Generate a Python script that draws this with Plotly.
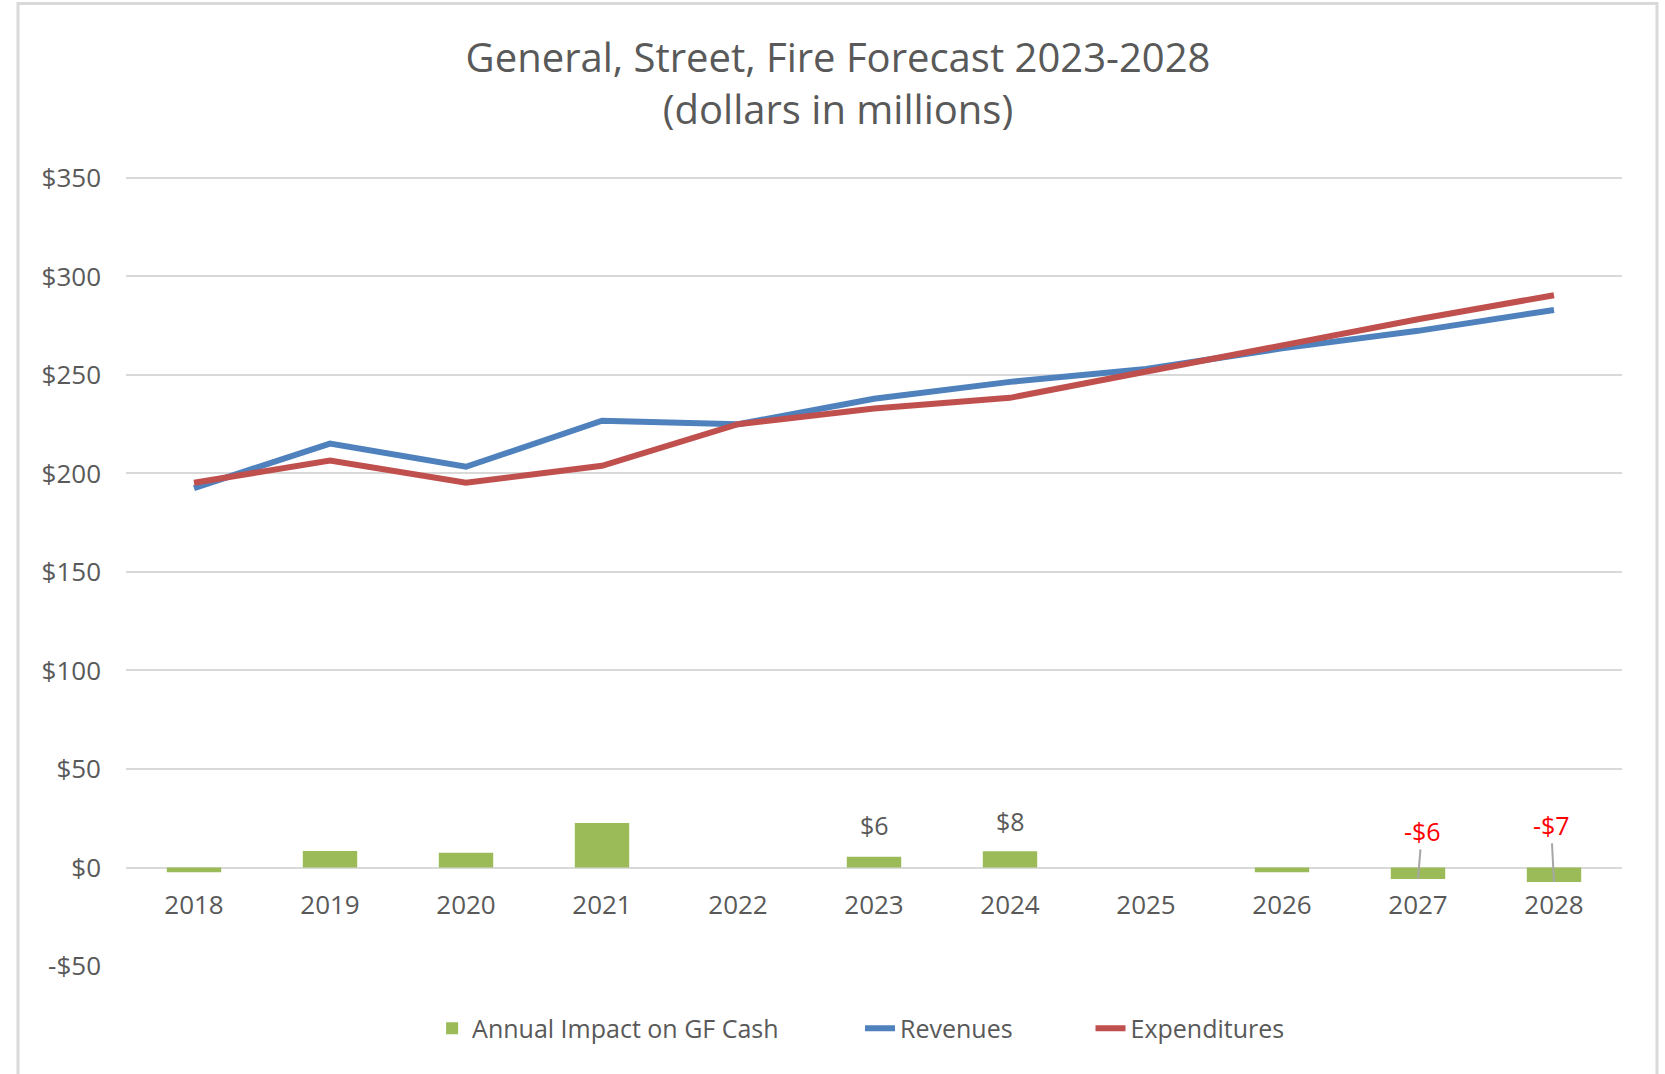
import plotly.graph_objects as go

years = ["2018", "2019", "2020", "2021", "2022", "2023", "2024", "2025", "2026", "2027", "2028"]
revenues = [192.6, 215.2, 203.4, 226.8, 225.0, 237.9, 246.5, 253.0, 263.5, 272.4, 283.0]
expenditures = [195.3, 206.6, 195.3, 203.9, 225.0, 233.0, 238.4, 251.9, 265.4, 278.3, 290.5]
impact = [-2.4, 8.4, 7.5, 22.6, 0.0, 5.5, 8.3, 0.0, -2.4, -5.8, -7.3]

label_years = ["2023", "2024", "2027", "2028"]
label_texts = ["$6", "$8", "-$6", "-$7"]

y_tickvals = [-50, 0, 50, 100, 150, 200, 250, 300, 350]
y_ticktext = ["-$50", "$0", "$50", "$100", "$150", "$200", "$250", "$300", "$350"]

Y_MIN, Y_MAX = -50, 351   # a little headroom so the $350 gridline is drawn

W, H = 1665, 1074
PX_PER_UNIT = (966.4 - 178.4) / 400.0
PL, PR = 126, 1622
PB = 966.4
PT = 178.4 - (Y_MAX - 350) * PX_PER_UNIT
ML, MR, MT, MB = PL, W - PR, PT, H - PB
PW = PR - PL
PH = PB - PT


def paper_x(page_x):
    return (page_x - PL) / PW


def paper_y(page_y):
    return (PB - page_y) / PH


GRAY_TXT = "#595959"
GRID = "#d9d9d9"
FONT = "Open Sans"

fig = go.Figure()
fig.add_trace(go.Bar(x=years, y=impact, name="Annual Impact on GF Cash",
                     marker=dict(color="#9BBB59", line=dict(width=0)), legend="legend"))
fig.add_trace(go.Scatter(x=years, y=revenues, name="Revenues", mode="lines",
                         line=dict(color="#4F81BD", width=6), legend="legend2"))
fig.add_trace(go.Scatter(x=years, y=expenditures, name="Expenditures", mode="lines",
                         line=dict(color="#C0504D", width=6), legend="legend3"))

# label placement styles (pixel offsets from the bar end)
label_style = {
    "2023": dict(dx=0, dy=-32),
    "2024": dict(dx=0, dy=-30),
    "2027": dict(dx=4, dy=-48),
    "2028": dict(dx=-3, dy=-57),
}

annotations = []
for yr, txt in zip(label_years, label_texts):
    i = years.index(yr)
    v = impact[i]
    st = label_style[yr]
    if v >= 0:
        annotations.append(dict(x=i, y=v, xref="x", yref="y", text=txt, showarrow=False,
                                yanchor="middle", yshift=-st["dy"], xshift=st["dx"],
                                font=dict(family=FONT, size=25, color=GRAY_TXT)))
    else:
        annotations.append(dict(x=i, y=v, xref="x", yref="y", text=txt, showarrow=True,
                                arrowhead=0, arrowwidth=2, arrowcolor="#a6a6a6",
                                ax=st["dx"], ay=st["dy"], standoff=0,
                                font=dict(family=FONT, size=25, color="#FF0000")))

zero_pos = (0 - Y_MIN) / (Y_MAX - Y_MIN)

legend_common = dict(orientation="h", xanchor="left", yanchor="middle", y=paper_y(1029),
                     font=dict(family=FONT, size=25, color=GRAY_TXT),
                     bgcolor="rgba(0,0,0,0)", borderwidth=0)
LEG_TEXT_OFFSET = 40.5

fig.update_layout(
    width=W, height=H,
    margin=dict(l=ML, r=MR, t=MT, b=MB, autoexpand=False),
    paper_bgcolor="white", plot_bgcolor="white",
    title=dict(text="General, Street, Fire Forecast 2023-2028<br>(dollars in millions)",
               x=838 / W, xref="container", xanchor="center",
               y=1 - 72 / H, yref="container", yanchor="middle",
               font=dict(family=FONT, size=40, color=GRAY_TXT)),
    bargap=0.6,
    showlegend=True,
    legend=dict(x=paper_x(472.6 - LEG_TEXT_OFFSET), **legend_common),
    legend2=dict(x=paper_x(900.5 - LEG_TEXT_OFFSET), **legend_common),
    legend3=dict(x=paper_x(1131 - LEG_TEXT_OFFSET), **legend_common),
    xaxis=dict(type="category", range=[-0.5, 10.5], autorange=False,
               anchor="free", position=zero_pos,
               showgrid=False, showline=False, zeroline=False, ticks="",
               ticklabelstandoff=20,
               tickfont=dict(family=FONT, size=26, color=GRAY_TXT)),
    yaxis=dict(range=[Y_MIN, Y_MAX], autorange=False, tickvals=y_tickvals, ticktext=y_ticktext,
               showgrid=True, gridcolor=GRID, gridwidth=2,
               zeroline=True, zerolinecolor=GRID, zerolinewidth=2,
               showline=False, ticks="", ticklabelstandoff=24,
               tickfont=dict(family=FONT, size=26, color=GRAY_TXT)),
    annotations=annotations,
    shapes=[dict(type="rect", xref="paper", yref="paper",
                 x0=paper_x(18), x1=paper_x(1657),
                 y0=paper_y(1085), y1=paper_y(4),
                 line=dict(color=GRID, width=3), fillcolor="rgba(0,0,0,0)", layer="below")],
)

fig.write_html("out.html", config={"displayModeBar": False},
               post_script="document.body.style.margin='0px';document.body.style.overflow='hidden';")
